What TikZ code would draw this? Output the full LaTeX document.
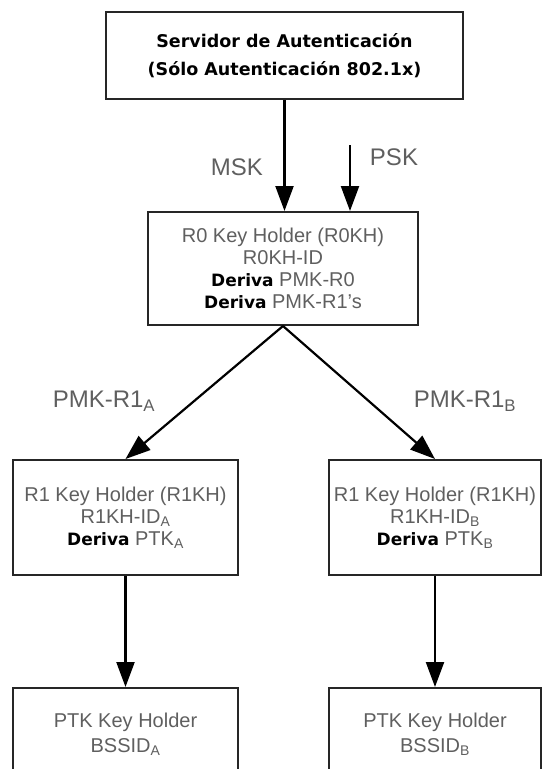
\documentclass[tikz,border=0pt]{standalone}
\usepackage{fontspec}
\setmainfont{Liberation Sans}
\newfontfamily\dejavu{DejaVu Sans}
\usetikzlibrary{positioning,arrows.meta,calc}
\definecolor{txtgray}{RGB}{95,95,95}
\newcommand{\deriva}{{\dejavu\bfseries\fontsize{17}{22}\selectfont\color{black}Deriva}}

\begin{document}
\begin{tikzpicture}[x=1pt,y=-1pt,
  every node/.style={inner sep=0pt},
  srvbox/.style={draw=black!85,line width=2.2pt,minimum width=357pt,minimum height=87pt,
    align=center,font=\dejavu\bfseries\fontsize{17.5}{28}\selectfont},
  khbox/.style={draw=black!85,line width=2pt,align=center,text=txtgray,
    font=\fontsize{20}{22}\selectfont},
  keylabel/.style={text=txtgray,font=\fontsize{24}{26}\selectfont},
  keyarrow/.style={-{Triangle[length=25pt,width=18pt]},line width=2.2pt,black}
]
\useasboundingbox (0,0) rectangle (542,769);
\clip (0,0) rectangle (542,769);

% the server and the R0 key holder
\node[srvbox] (srv) at (284.5,55.5) {Servidor de Autenticación\\(Sólo Autenticación 802.1x)};
\node[khbox,minimum width=270pt,minimum height=113pt] (r0) at (283,268.5)
  {R0 Key Holder (R0KH)\\R0KH-ID\\\deriva{} PMK-R0\\\deriva{} PMK-R1's};

% the R1 key holders and the PTK key holders
\foreach \s/\x/\w in {A/125.5/225,B/435/212} {
  \node[khbox,minimum width=\w pt,minimum height=115pt] (r1\s) at (\x,517.5)
    {R1 Key Holder (R1KH)\\R1KH-ID\textsubscript{\s}\\\deriva{} PTK\textsubscript{\s}};
  \node[khbox,minimum width=\w pt,minimum height=92pt,font=\fontsize{20}{25}\selectfont]
    (ptk\s) at (\x,734) {PTK Key Holder\\BSSID\textsubscript{\s}};
}

% the keys
\coordinate (pskin) at (350,145);
\draw[keyarrow] (srv.south) -- (srv.south |- r0.north);
\draw[keyarrow] (pskin) -- (pskin |- r0.north);
\foreach \s in {A,B} {
  \draw[keyarrow] (r0.south) -- (r1\s.north);
  \draw[keyarrow] (r1\s.south) -- (ptk\s.north);
}

% label keys
\node[keylabel] (msk) at (237,167) {MSK};
\node[keylabel] (psk) at (394,157) {PSK};
\node[keylabel] (pmkA) at (104,401) {PMK-R1\textsubscript{A}};
\node[keylabel] (pmkB) at (465,401) {PMK-R1\textsubscript{B}};

\end{tikzpicture}
\end{document}
